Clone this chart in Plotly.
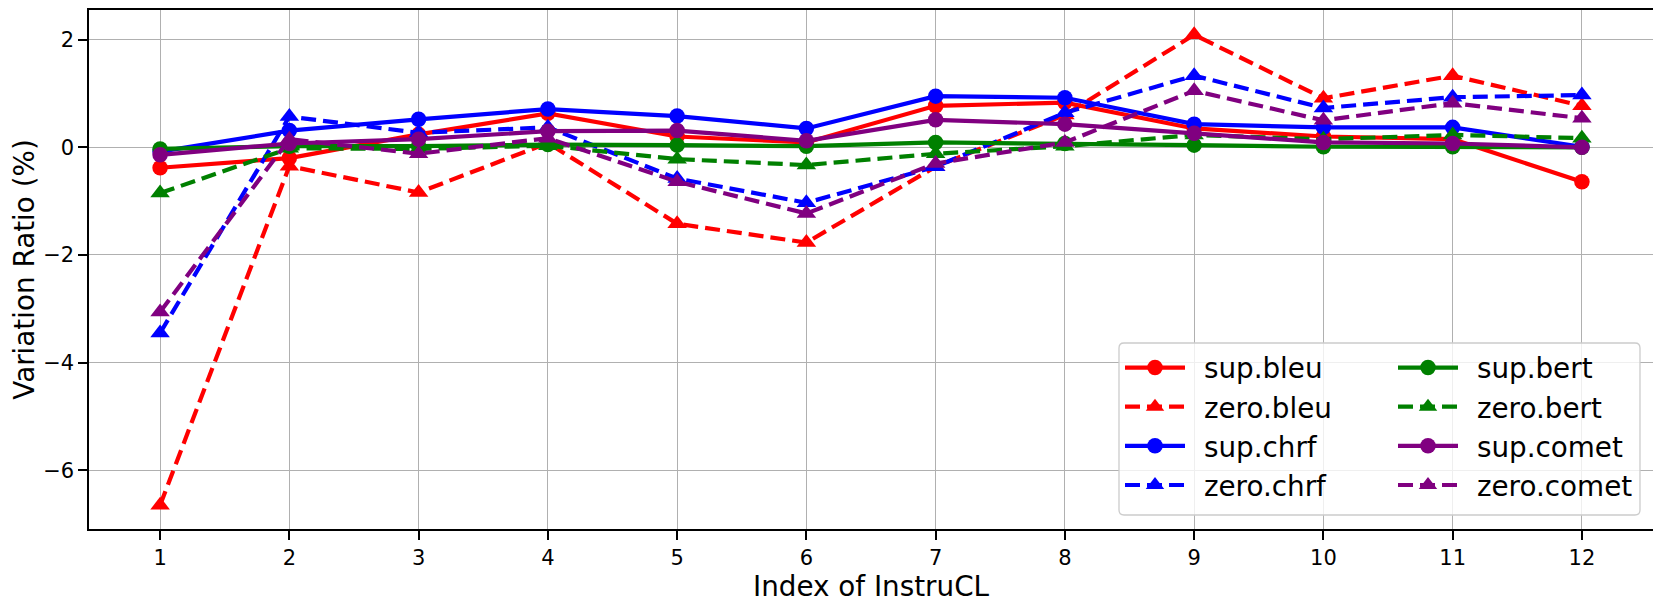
import plotly.graph_objects as go

x_index = [1, 2, 3, 4, 5, 6, 7, 8, 9, 10, 11, 12]

sup_bleu = [-0.38, -0.20, 0.24, 0.63, 0.20, 0.09, 0.77, 0.83, 0.35, 0.20, 0.15, -0.64]
zero_bleu = [-6.65, -0.35, -0.84, 0.08, -1.42, -1.77, -0.36, 0.60, 2.09, 0.91, 1.33, 0.77]
sup_chrf = [-0.08, 0.31, 0.52, 0.71, 0.58, 0.35, 0.95, 0.92, 0.43, 0.37, 0.37, 0.01]
zero_chrf = [-3.45, 0.57, 0.27, 0.37, -0.58, -1.03, -0.36, 0.64, 1.33, 0.73, 0.93, 0.97]
sup_bert = [-0.03, 0.02, 0.02, 0.05, 0.04, 0.02, 0.09, 0.07, 0.04, 0.01, 0.01, 0.00]
zero_bert = [-0.85, -0.02, -0.03, 0.03, -0.22, -0.33, -0.12, 0.02, 0.23, 0.15, 0.23, 0.17]
sup_comet = [-0.14, 0.07, 0.15, 0.30, 0.31, 0.12, 0.51, 0.43, 0.26, 0.09, 0.07, 0.00]
zero_comet = [-3.06, 0.15, -0.12, 0.17, -0.64, -1.23, -0.30, 0.09, 1.05, 0.50, 0.82, 0.54]

y_ticks = [-6, -4, -2, 0, 2]

series = [
    ("sup.bleu", sup_bleu, "#ff0000", "sup", "legend"),
    ("zero.bleu", zero_bleu, "#ff0000", "zero", "legend"),
    ("sup.chrf", sup_chrf, "#0000ff", "sup", "legend"),
    ("zero.chrf", zero_chrf, "#0000ff", "zero", "legend"),
    ("sup.bert", sup_bert, "#008000", "sup", "legend2"),
    ("zero.bert", zero_bert, "#008000", "zero", "legend2"),
    ("sup.comet", sup_comet, "#800080", "sup", "legend2"),
    ("zero.comet", zero_comet, "#800080", "zero", "legend2"),
]

FONT = "DejaVu Sans"
OFF = 8  # default page body margin
W, H = 1661 - OFF, 604 - OFF
ML, MR, MT, MB = 81, 8, 2, 75
PW = W - ML - MR
PH = H - MT - MB

fig = go.Figure()
for name, vals, color, kind, leg in series:
    if kind == "sup":
        line = dict(color=color, width=4.2)
        marker = dict(symbol="circle", size=15.5, color=color, line=dict(width=0))
    else:
        line = dict(color=color, width=4.2, dash="15px,7px")
        marker = dict(symbol="triangle-up", size=17, color=color, line=dict(width=0))
    fig.add_trace(go.Scatter(x=x_index, y=vals, name="\u2002" + name, mode="lines+markers",
                             line=line, marker=marker, legend=leg))


def px2paper_x(px):
    return (px - OFF - ML) / PW


def px2paper_y(py):
    return (OFF + H - MB - py) / PH


# legend frame (rounded rectangle)
bx0, bx1 = px2paper_x(1119), px2paper_x(1640)
by0, by1 = px2paper_y(515), px2paper_y(343)
rx, ry = 5 / PW, 5 / PH
path = (f"M{bx0+rx},{by0} L{bx1-rx},{by0} Q{bx1},{by0} {bx1},{by0+ry} "
        f"L{bx1},{by1-ry} Q{bx1},{by1} {bx1-rx},{by1} "
        f"L{bx0+rx},{by1} Q{bx0},{by1} {bx0},{by1-ry} "
        f"L{bx0},{by0+ry} Q{bx0},{by0} {bx0+rx},{by0} Z")
fig.add_shape(type="path", path=path, xref="paper", yref="paper",
              fillcolor="rgba(255,255,255,0.8)", line=dict(color="#cccccc", width=1.3),
              layer="above")

legend_common = dict(font=dict(family=FONT, size=27.8, color="black"),
                     bgcolor="rgba(0,0,0,0)", borderwidth=0, itemwidth=60,
                     yanchor="top", xanchor="left", tracegroupgap=0)
fig.update_layout(
    legend=dict(x=px2paper_x(1120), y=px2paper_y(343), **legend_common),
    legend2=dict(x=px2paper_x(1393), y=px2paper_y(343), **legend_common),
)

axis_common = dict(showline=True, linecolor="black", linewidth=2, mirror=True,
                   ticks="outside", ticklen=8.7, tickwidth=2, tickcolor="black",
                   showgrid=True, gridcolor="#b0b0b0", gridwidth=1.3, zeroline=False,
                   tickfont=dict(family=FONT, size=21, color="black"))

fig.update_xaxes(range=[0.45, 12.55], tickvals=x_index, ticktext=[str(v) for v in x_index],
                 title=dict(text="Index of InstruCL", font=dict(family=FONT, size=27.8, color="black"),
                            standoff=8),
                 **axis_common)
fig.update_yaxes(range=[-7.09, 2.55], tickvals=y_ticks, tickformat="d",
                 title=dict(text="Variation Ratio (%)", font=dict(family=FONT, size=27.8, color="black"),
                            standoff=12),
                 **axis_common)

fig.update_layout(width=W, height=H, margin=dict(l=ML, r=MR, t=MT, b=MB, autoexpand=False),
                  paper_bgcolor="white", plot_bgcolor="white", showlegend=True,
                  font=dict(family=FONT))

fig.write_html("out.html")
